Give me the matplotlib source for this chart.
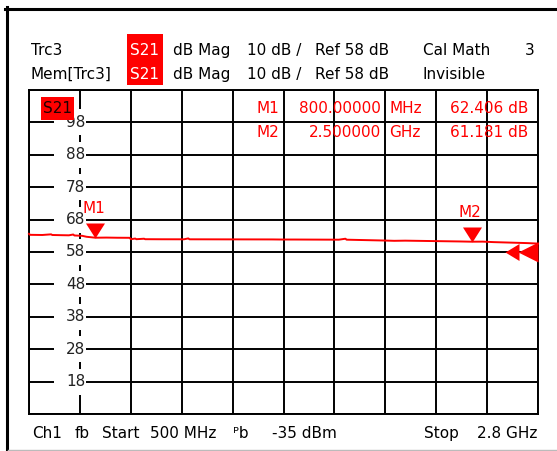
import matplotlib
matplotlib.use("Agg")
import matplotlib.pyplot as plt
from matplotlib.lines import Line2D
from matplotlib.patches import Rectangle
from matplotlib.path import Path

plt.rcParams['font.family'] = ['DejaVu Sans']
plt.rcParams['font.size'] = 11

W, H = 557, 451
RED = '#ff0000'

# Trace data (frequency in GHz, S21 in dB)
freq_ghz = [0.500, 0.505, 0.560, 0.600, 0.605, 0.640, 0.680, 0.700, 0.705, 0.740,
            0.760, 0.800, 0.850, 0.900, 0.955, 0.960, 0.980, 0.985, 1.020, 1.025,
            1.040, 1.100, 1.200, 1.220, 1.225, 1.400, 1.600, 1.640, 1.700, 1.900,
            1.930, 1.935, 2.000, 2.100, 2.150, 2.200, 2.300, 2.400, 2.450, 2.500,
            2.550, 2.600, 2.650, 2.700, 2.750, 2.800]
trace_db = [63.6, 63.3, 63.25, 63.45, 63.25, 63.2, 63.15, 63.4, 63.1, 63.0,
            62.7, 62.41, 62.45, 62.40, 62.38, 61.95, 62.15, 61.95, 62.1, 61.95,
            61.95, 61.93, 61.92, 62.2, 61.92, 61.9, 61.88, 61.85, 61.85, 61.8,
            62.1, 61.8, 61.7, 61.55, 61.45, 61.5, 61.4, 61.3, 61.25, 61.18,
            61.2, 61.05, 60.95, 60.85, 60.75, 60.6]

marker_names = ['M1', 'M2']
marker_freq_ghz = [0.8, 2.5]
marker_db = [62.406, 61.181]
marker_freq_text = ['800.00000', '2.500000']
marker_unit_text = ['MHz', 'GHz']
marker_val_text = ['62.406 dB', '61.181 dB']

start_ghz, stop_ghz = 0.5, 2.8
ref_db = 58
scale_db = 10
y_labels = [98, 88, 78, 68, 58, 48, 38, 28, 18]


def fx(x):
    return x / W


def fy(y):
    return 1 - y / H


fig = plt.figure(figsize=(W / 100, H / 100), dpi=100)
ax = fig.add_axes([fx(29), fy(414), (538 - 29) / W, (414 - 90) / H])
ax.set_xlim(start_ghz, stop_ghz)
ax.set_ylim(ref_db - 5 * scale_db, ref_db + 5 * scale_db)
ax.set_xticks([start_ghz + i * (stop_ghz - start_ghz) / 10 for i in range(11)])
ax.set_yticks([ref_db + i * scale_db for i in range(-5, 6)])
ax.tick_params(length=0, labelbottom=False, labelleft=False)
ax.grid(True, color='black', lw=1.4)
for s in ax.spines.values():
    s.set_linewidth(1.4)

# y labels with white background over the grid
yt = ax.get_yaxis_transform()
for v in y_labels:
    ax.add_patch(Rectangle((0.049, v - 4.0), 0.063, 8.0, transform=yt,
                           fc='white', ec='none', zorder=2.5))
    ax.text(0.0914, v, str(v), transform=yt, ha='center', va='center',
            color='#222222', zorder=3)

# S21 tag inside the grid
ax.add_patch(Rectangle((0.023, 0.9074), 0.0654, 0.0701, transform=ax.transAxes,
                       fc=RED, ec='none', zorder=4))
ax.text(0.027, 0.9425, 'S21', transform=ax.transAxes, ha='left', va='center',
        color='#200000', zorder=5)

# trace
ax.plot(freq_ghz, trace_db, color=RED, lw=1.4, zorder=3.5, clip_on=False)

# marker triangles
tri = Path([(0, 0), (-9.5, 15), (9.5, 15), (0, 0)],
           [Path.MOVETO, Path.LINETO, Path.LINETO, Path.CLOSEPOLY])
ax.plot(marker_freq_ghz, marker_db, ls='none', marker=tri, ms=30 * 0.72,
        mfc=RED, mew=0, zorder=4)
for name, f, d in zip(marker_names, marker_freq_ghz, marker_db):
    ax.annotate(name, (f, d), xytext=(-1.1, 21), textcoords='offset points',
                ha='center', va='center', color=RED, zorder=5)

# reference level arrows at right edge
ref_path = Path([(0, 10), (0, -10), (-20, 0), (0, 10),
                 (-19, 8.5), (-19, -8.5), (-33, 0), (-19, 8.5)],
                [Path.MOVETO, Path.LINETO, Path.LINETO, Path.CLOSEPOLY] * 2)
ax.plot([stop_ghz], [ref_db], ls='none', marker=ref_path, ms=66 * 0.72,
        mfc=RED, mew=0, zorder=4, clip_on=False)

# header
rows = [('Trc3', 55), ('Mem[Trc3]', 79)]
fig.add_artist(Rectangle((fx(127.3), fy(85)), 36 / W, 50.7 / H,
                         transform=fig.transFigure, fc=RED, ec='none'))
for label, by in rows:
    fig.text(fx(30.7), fy(by), label, va='baseline')
    fig.text(fx(130), fy(by), 'S21', va='baseline', color='white')
    fig.text(fx(173), fy(by), 'dB Mag', va='baseline')
    fig.text(fx(246.7), fy(by), f'{scale_db} dB /', va='baseline')
    fig.text(fx(314.7), fy(by), f'Ref {ref_db} dB', va='baseline')
fig.text(fx(422.7), fy(55), 'Cal Math', va='baseline')
fig.text(fx(535), fy(55), '3', va='baseline', ha='right')
fig.text(fx(422.7), fy(79), 'Invisible', va='baseline')

# marker readout
for i, by in enumerate([113, 137.3]):
    fig.text(fx(256), fy(by), marker_names[i], va='baseline', color=RED)
    fig.text(fx(381), fy(by), marker_freq_text[i], va='baseline', ha='right', color=RED)
    fig.text(fx(389.3), fy(by), marker_unit_text[i], va='baseline', color=RED)
    fig.text(fx(528.3), fy(by), marker_val_text[i], va='baseline', ha='right', color=RED)

# footer
for x, s in [(32, 'Ch1'), (75, 'fb'), (102, 'Start'), (150, '500 MHz'),
             (233, 'ᴾb'), (272, '-35 dBm'), (423.7, 'Stop')]:
    fig.text(fx(x), fy(438), s, va='baseline')
fig.text(fx(537), fy(438), '2.8 GHz', va='baseline', ha='right')

# window frame
fig.add_artist(Line2D([fx(6.5), fx(6.5)], [fy(7), fy(449.5)], color='black', lw=2.2))
fig.add_artist(Line2D([fx(5), fx(557)], [fy(8.5), fy(8.5)], color='black', lw=2.2))
fig.add_artist(Line2D([fx(8), fx(557)], [fy(449.5), fy(449.5)], color='#bbbbbb', lw=1))

fig.savefig('out.png', dpi=100)
